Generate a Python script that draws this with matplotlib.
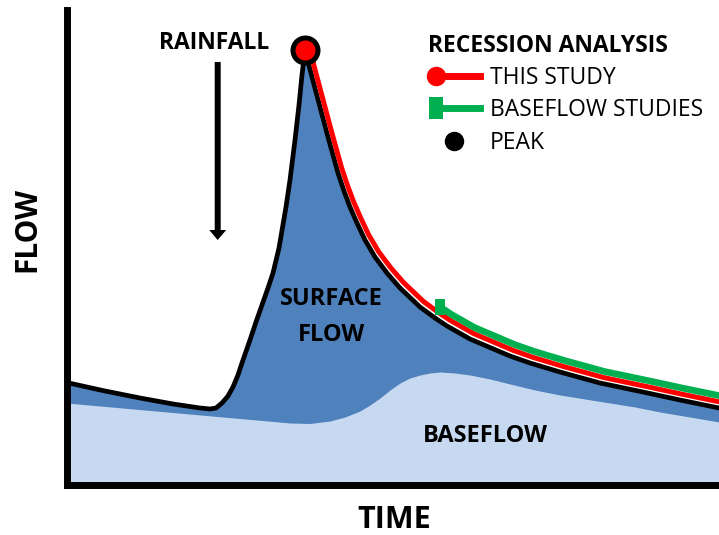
import numpy as np
import matplotlib
matplotlib.use("Agg")
import matplotlib.pyplot as plt
from matplotlib.lines import Line2D
from matplotlib.path import Path
from matplotlib.legend_handler import HandlerLine2D
import matplotlib.transforms as mtransforms

plt.rcParams['font.family'] = ['Open Sans', 'DejaVu Sans']

# ---------------- data (arbitrary units: time, flow) ----------------
time_total = [0, 38.5, 73.5, 106.5, 133.5, 143.5, 149.5, 155.5, 161.5, 166.5,
              171.5, 176.5, 183.5, 189.5, 195.5, 201.5, 206.5, 212.5, 219.5,
              223.5, 228.5, 232.5, 235.5, 238.5, 245.5, 253.5, 261.5, 271.5,
              277.5, 283.5, 290.5, 298.5, 308.5, 320.5, 333.5, 353.5, 368.5,
              380.5, 403.5, 443.5, 463.5, 493.5, 533.5, 576.5, 613.5, 652.5]
flow_total = [102, 93.5, 86.5, 80.5, 76.5, 75.5, 76.5, 81.5, 88.5, 97.5,
              109.5, 124.5, 144.5, 162.5, 179.5, 196.5, 211.5, 236.5, 277.5,
              304.5, 344.5, 379.5, 409.5, 434.5, 407.5, 377.5, 347.5, 311.5,
              293.5, 277.5, 261.5, 244.5, 227.5, 211.5, 196.5, 177.5, 166.5,
              158.5, 145.5, 128.5, 121.5, 112.5, 101.5, 92.5, 84.5, 76.5]

time_base = [0, 223.5, 243.5, 263.5, 278.5, 293.5, 303.5, 313.5, 323.5, 333.5,
             343.5, 353.5, 363.5, 373.5, 388.5, 403.5, 423.5, 443.5, 468.5,
             493.5, 518.5, 543.5, 568.5, 593.5, 623.5, 652.5]
flow_base = [81.5, 61.5, 61, 63.5, 67.5, 73.5, 79.5, 86.5, 94.5, 101.5,
             106.5, 109.5, 111.5, 112.5, 111.5, 109.5, 105.5, 100.5, 94.5,
             89.5, 85.5, 81.5, 77.5, 72.5, 67.5, 62.5]

baseflow_study_start = 368.5   # time where the baseflow-studies recession starts

legend_title = "RECESSION ANALYSIS"
legend_labels = ["THIS STUDY", "BASEFLOW STUDIES", "PEAK"]

# ---------------- figure ----------------
W, H = 719, 535
fig = plt.figure(figsize=(W / 100, H / 100), dpi=100)
ax = fig.add_axes([66.5 / W, (H - 484.5) / H, (W - 66.5) / W, (484.5 - 10) / H])
ax.set_xlim(0, 652.5)
ax.set_ylim(0, 474.5)

dark_blue = '#4F81BD'
light_blue = '#C6D9F0'
red = '#FF0000'
green = '#00B050'

t = np.array(time_total)
q = np.array(flow_total)
tb = np.array(time_base)
qb = np.array(flow_base)

# fills
ax.fill_between(t, 0, q, color=dark_blue, lw=0, zorder=1)
ax.fill_between(tb, 0, qb, color=light_blue, lw=0, zorder=1.5)

# hydrograph line
ax.plot(t, q, color='black', lw=3.4, solid_joinstyle='round', zorder=3)

ipk = int(np.argmax(q))
# recession lines, drawn parallel to the hydrograph
red_tr = mtransforms.offset_copy(ax.transData, fig=fig, x=3.5, y=5.5, units='dots')
ax.plot(t[ipk:], q[ipk:], color=red, lw=3.6, solid_joinstyle='round',
        transform=red_tr, zorder=4)

bar = Path([(-0.3, -0.5), (0.3, -0.5), (0.3, 0.5), (-0.3, 0.5), (-0.3, -0.5)],
           [Path.MOVETO, Path.LINETO, Path.LINETO, Path.LINETO, Path.CLOSEPOLY])
ig = int(np.searchsorted(t, baseflow_study_start))
green_tr = mtransforms.offset_copy(ax.transData, fig=fig, x=4.5, y=11.5, units='dots')
ax.plot(t[ig:], q[ig:], color=green, lw=4.8, solid_joinstyle='round',
        transform=green_tr, zorder=4)
ax.plot([t[ig]], [q[ig]], marker=bar, ms=12, color=green, mew=0,
        transform=green_tr, zorder=4, linestyle='none')

# peak marker
ax.plot([t[ipk]], [q[ipk]], marker='o', ms=18, mfc=red, mec='black', mew=3.6,
        zorder=6, linestyle='none')

# rainfall arrow
ax.annotate('', xy=(151.2, 244.5), xytext=(151.2, 422.5),
            arrowprops=dict(arrowstyle='simple,head_length=0.72,head_width=1.22,tail_width=0.43',
                            mutation_scale=10, color='black', lw=0,
                            shrinkA=0, shrinkB=0), zorder=5)
ax.text(148, 442, "RAINFALL", ha='center', va='center', fontsize=16.5,
        fontweight='bold', color='black', zorder=6)

ax.text(264.5, 167.5, "SURFACE\nFLOW", ha='center', va='center', fontsize=17,
        fontweight='bold', color='black', linespacing=1.62, zorder=6)
ax.text(418.5, 48, "BASEFLOW", ha='center', va='center', fontsize=17,
        fontweight='bold', color='black', zorder=6)

# axes styling
for s in ['top', 'right']:
    ax.spines[s].set_visible(False)
for s in ['left', 'bottom']:
    ax.spines[s].set_linewidth(5)
    ax.spines[s].set_capstyle('projecting')
    ax.spines[s].set_zorder(7)
ax.set_xticks([])
ax.set_yticks([])

fig.text(27 / W, 1 - 229 / H, "FLOW", rotation=90, ha='center', va='center',
         fontsize=21.5, fontweight='bold')
fig.text(394 / W, 1 - 520 / H, "TIME", ha='center', va='center',
         fontsize=22, fontweight='bold')


# legend
class LeftMarkerHandler(HandlerLine2D):
    def create_artists(self, legend, orig_handle, xdescent, ydescent, width,
                       height, fontsize, trans):
        arts = super().create_artists(legend, orig_handle, xdescent, ydescent,
                                      width, height, fontsize, trans)
        for a in arts:
            if isinstance(a, Line2D):
                xd = np.asarray(a.get_xdata(), float)
                pad = 0.16 * width
                a.set_xdata(np.linspace(xd[0] + pad, xd[-1], len(xd)))
                a.set_markevery([0])
        return arts


h_red = Line2D([], [], color=red, lw=5, marker='o', ms=13, mec=red, mfc=red)
h_green = Line2D([], [], color=green, lw=5, marker=bar, ms=16, mew=0, mfc=green)
h_peak = Line2D([], [], color='black', lw=0, marker='o', ms=13, linestyle='none')

leg = ax.legend([h_red, h_green, h_peak], legend_labels,
                handler_map={h_red: LeftMarkerHandler(numpoints=1),
                             h_green: LeftMarkerHandler(numpoints=1)},
                loc='upper left', bbox_to_anchor=(428 / W, 1 - 33.5 / H),
                bbox_transform=fig.transFigure, frameon=False,
                title=legend_title,
                title_fontproperties={'weight': 'bold', 'size': 16.5},
                alignment='left', fontsize=16.5, borderpad=0, borderaxespad=0,
                handlelength=2.25, handletextpad=0.45, labelspacing=0.37,
                numpoints=1)
leg.set_zorder(8)

fig.savefig("out.png", dpi=100)
